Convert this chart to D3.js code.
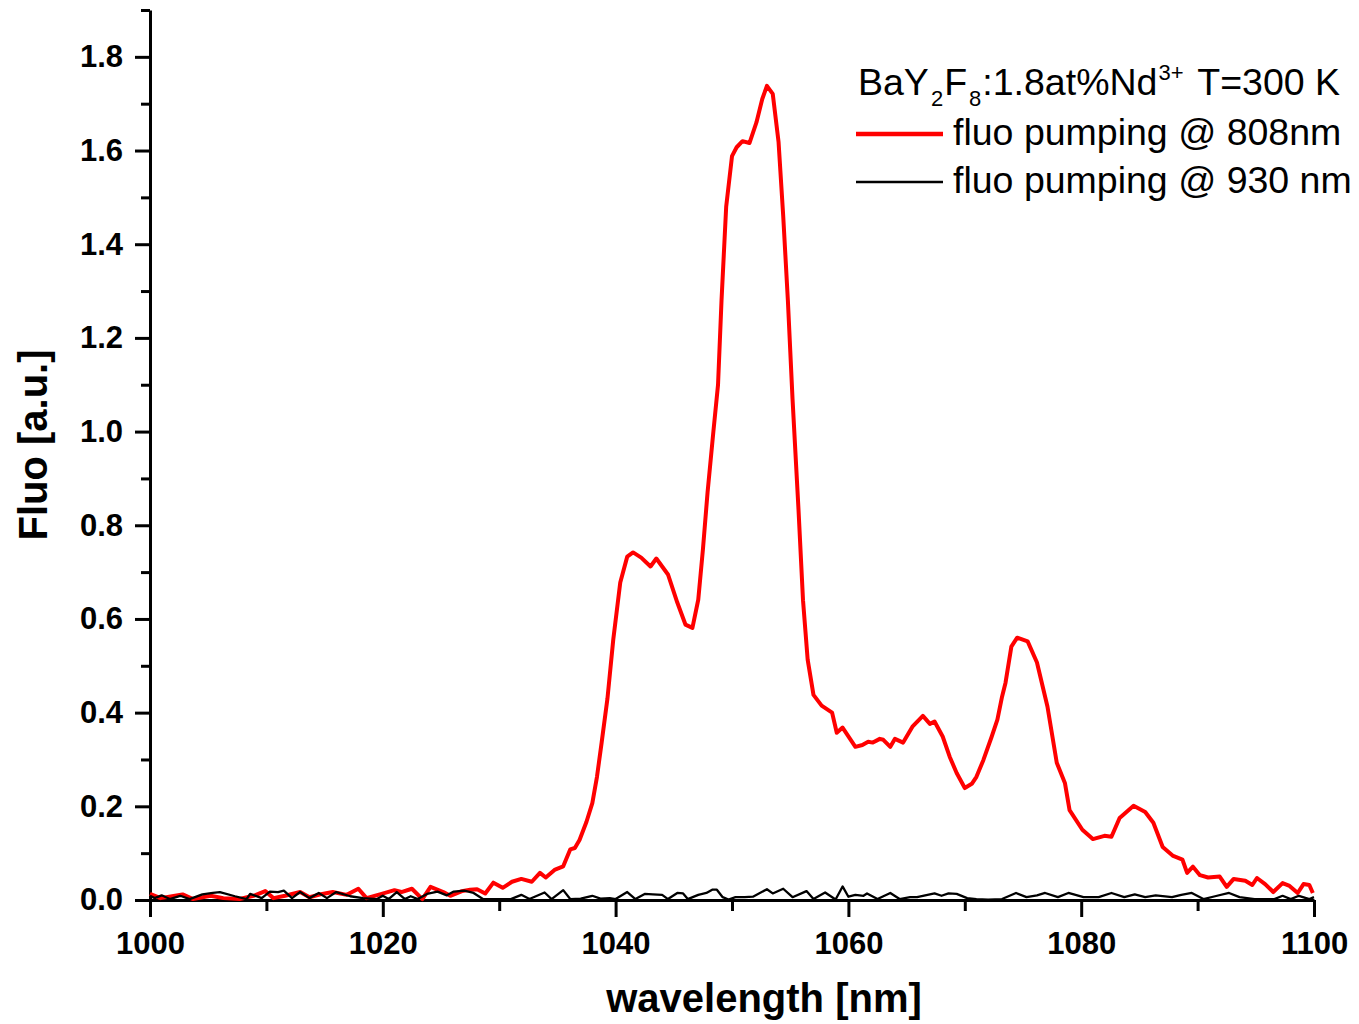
<!DOCTYPE html>
<html>
<head>
<meta charset="utf-8">
<script src="https://cdn.jsdelivr.net/npm/d3@7"></script>
<style>
  body { margin: 0; background: #fff; }
  svg { display: block; font-family: 'Liberation Sans', Arial, sans-serif; }
  .axis path, .axis line { stroke: #000; stroke-width: 3; }
  .axis text { font-size: 31px; font-weight: bold; fill: #000; }
</style>
</head>
<body>
<div id="chart"></div>
<script>
// fluorescence, pumping @ 808 nm (red)
const redWl = [1000.0, 1000.9, 1001.9, 1002.8, 1003.7, 1005.2, 1006.3, 1007.7, 1008.9, 1009.9,
  1010.6, 1011.6, 1012.9, 1013.7, 1014.8, 1015.7, 1016.9, 1017.9, 1018.6, 1019.9,
  1021.0, 1021.6, 1022.5, 1023.4, 1024.1, 1025.2, 1025.8, 1026.8, 1027.5, 1028.1,
  1028.8, 1029.5, 1030.3, 1031.1, 1031.9, 1032.8, 1033.5, 1034.0, 1034.8, 1035.5,
  1036.1, 1036.5, 1036.9, 1037.5, 1038.0, 1038.4, 1038.8, 1039.3, 1039.8, 1040.4,
  1041.0, 1041.5, 1042.2, 1043.0, 1043.5, 1044.5, 1045.3, 1046.0, 1046.6, 1047.1,
  1047.5, 1047.9, 1048.4, 1048.8, 1049.1, 1049.5, 1050.0, 1050.4, 1050.9, 1051.5,
  1052.1, 1052.6, 1053.0, 1053.5, 1054.0, 1054.4, 1054.8, 1055.2, 1055.7, 1056.1,
  1056.5, 1057.0, 1057.7, 1058.6, 1059.0, 1059.5, 1060.6, 1061.2, 1061.7, 1062.1,
  1062.7, 1063.0, 1063.6, 1064.0, 1064.7, 1065.5, 1066.4, 1067.0, 1067.4, 1068.1,
  1068.7, 1069.3, 1070.0, 1070.6, 1071.0, 1071.6, 1072.3, 1072.8, 1073.2, 1073.5,
  1074.0, 1074.5, 1075.4, 1076.2, 1077.1, 1077.9, 1078.6, 1079.0, 1080.1, 1081.0,
  1082.0, 1082.6, 1083.3, 1084.5, 1085.5, 1086.2, 1087.0, 1087.9, 1088.7, 1089.1,
  1089.6, 1090.2, 1090.9, 1091.9, 1092.5, 1093.1, 1094.1, 1094.7, 1095.1, 1095.8,
  1096.5, 1097.3, 1097.9, 1098.6, 1099.1, 1099.6, 1099.9];
const redFluo = [0.013, 0.004, 0.008, 0.012, 0.002, 0.009, 0.004, 0.002, 0.009, 0.019,
  0.004, 0.009, 0.017, 0.006, 0.013, 0.017, 0.011, 0.024, 0.004, 0.013,
  0.021, 0.017, 0.024, 0.002, 0.028, 0.017, 0.009, 0.019, 0.022, 0.023,
  0.014, 0.037, 0.026, 0.039, 0.045, 0.039, 0.058, 0.048, 0.065, 0.072,
  0.108, 0.111, 0.128, 0.167, 0.207, 0.263, 0.336, 0.430, 0.556, 0.678,
  0.733, 0.742, 0.731, 0.712, 0.729, 0.695, 0.635, 0.588, 0.581, 0.641,
  0.748, 0.870, 1.000, 1.100, 1.280, 1.480, 1.588, 1.607, 1.620, 1.616,
  1.660, 1.710, 1.738, 1.721, 1.618, 1.460, 1.280, 1.070, 0.840, 0.640,
  0.513, 0.438, 0.415, 0.400, 0.357, 0.368, 0.327, 0.331, 0.338, 0.336,
  0.344, 0.342, 0.327, 0.344, 0.336, 0.370, 0.393, 0.376, 0.381, 0.349,
  0.306, 0.271, 0.239, 0.248, 0.263, 0.299, 0.348, 0.385, 0.434, 0.464,
  0.541, 0.560, 0.552, 0.507, 0.413, 0.293, 0.250, 0.192, 0.150, 0.130,
  0.137, 0.135, 0.175, 0.201, 0.188, 0.165, 0.113, 0.094, 0.086, 0.058,
  0.071, 0.053, 0.048, 0.050, 0.028, 0.045, 0.041, 0.032, 0.047, 0.034,
  0.017, 0.036, 0.030, 0.015, 0.034, 0.032, 0.015];

// fluorescence, pumping @ 930 nm (black)
const blackWl = [1000.0, 1000.4, 1001.0, 1001.7, 1002.6, 1003.4, 1004.5, 1005.4, 1006.0, 1007.3,
  1008.3, 1008.6, 1009.6, 1010.3, 1011.0, 1011.5, 1012.2, 1012.9, 1013.7, 1014.5,
  1015.2, 1016.0, 1017.2, 1018.3, 1019.5, 1020.0, 1020.5, 1021.2, 1021.9, 1022.4,
  1023.0, 1023.8, 1024.7, 1025.5, 1026.1, 1027.0, 1027.8, 1028.6, 1030.0, 1031.0,
  1031.9, 1032.6, 1033.9, 1034.5, 1035.5, 1036.1, 1037.0, 1038.0, 1038.7, 1039.5,
  1040.0, 1041.0, 1041.7, 1042.5, 1043.2, 1044.0, 1044.5, 1045.3, 1045.8, 1046.2,
  1047.1, 1047.8, 1048.3, 1048.7, 1049.2, 1049.7, 1050.3, 1051.1, 1051.8, 1053.0,
  1053.5, 1054.4, 1055.2, 1056.4, 1057.0, 1058.0, 1058.9, 1059.5, 1060.0, 1060.6,
  1061.3, 1061.6, 1062.5, 1063.6, 1064.4, 1065.3, 1065.9, 1066.8, 1067.4, 1068.0,
  1068.6, 1069.3, 1070.2, 1071.0, 1072.0, 1073.2, 1074.4, 1075.3, 1076.2, 1076.9,
  1078.0, 1078.9, 1080.2, 1081.5, 1082.6, 1083.7, 1084.6, 1085.5, 1086.4, 1087.8,
  1088.6, 1089.5, 1090.5, 1091.5, 1092.7, 1093.6, 1094.9, 1096.6, 1097.3, 1098.0,
  1098.7, 1099.6, 1100.0];
const blackFluo = [0.009, 0.004, 0.010, 0.002, 0.009, 0.002, 0.012, 0.015, 0.017, 0.008,
  0.002, 0.013, 0.004, 0.018, 0.017, 0.020, 0.004, 0.017, 0.004, 0.015,
  0.004, 0.017, 0.008, 0.004, 0.002, 0.009, 0.002, 0.017, 0.002, 0.008,
  0.002, 0.013, 0.018, 0.010, 0.018, 0.020, 0.015, 0.002, 0.002, 0.002,
  0.011, 0.002, 0.016, 0.002, 0.021, 0.002, 0.003, 0.009, 0.003, 0.004,
  0.002, 0.017, 0.002, 0.013, 0.012, 0.011, 0.002, 0.015, 0.014, 0.002,
  0.011, 0.015, 0.022, 0.022, 0.006, 0.001, 0.006, 0.006, 0.007, 0.023,
  0.014, 0.024, 0.006, 0.019, 0.002, 0.016, 0.001, 0.029, 0.007, 0.011,
  0.009, 0.014, 0.002, 0.015, 0.002, 0.006, 0.006, 0.011, 0.014, 0.009,
  0.014, 0.013, 0.004, 0.002, 0.001, 0.002, 0.015, 0.006, 0.010, 0.015,
  0.006, 0.015, 0.006, 0.006, 0.015, 0.006, 0.012, 0.006, 0.010, 0.006,
  0.011, 0.015, 0.002, 0.008, 0.015, 0.006, 0.002, 0.002, 0.009, 0.002,
  0.009, 0.002, 0.006];

const xTicks = [1000, 1020, 1040, 1060, 1080, 1100];
const yTicks = [0.0, 0.2, 0.4, 0.6, 0.8, 1.0, 1.2, 1.4, 1.6, 1.8];
const xMinorTicks = [1010, 1030, 1050, 1070, 1090];
const yMinorTicks = [0.1, 0.3, 0.5, 0.7, 0.9, 1.1, 1.3, 1.5, 1.7, 1.9];

const W = 1359, H = 1024;
const margin = {top: 10, right: 45, bottom: 124, left: 150};
const width = W - margin.left - margin.right;
const height = H - margin.top - margin.bottom;

const svg = d3.select('#chart').append('svg')
  .attr('width', W)
  .attr('height', H);

const g = svg.append('g')
  .attr('transform', `translate(${margin.left},${margin.top})`);

const x = d3.scaleLinear().domain([1000, 1100]).range([0, width]);
const y = d3.scaleLinear().domain([0, 1.9]).range([height, 0]);

// minor ticks first, major axes on top
g.append('g')
  .attr('class', 'axis')
  .attr('transform', `translate(0,${height})`)
  .call(d3.axisBottom(x).tickValues(xMinorTicks).tickSize(11).tickFormat(''))
  .call(s => s.select('.domain').remove());
g.append('g')
  .attr('class', 'axis')
  .call(d3.axisLeft(y).tickValues(yMinorTicks).tickSize(9).tickFormat(''))
  .call(s => s.select('.domain').remove());

g.append('g')
  .attr('class', 'axis')
  .attr('transform', `translate(0,${height})`)
  .call(d3.axisBottom(x).tickValues(xTicks).tickSize(17).tickSizeOuter(0).tickPadding(15).tickFormat(d3.format('d')));

g.append('g')
  .attr('class', 'axis')
  .call(d3.axisLeft(y).tickValues(yTicks).tickSize(15).tickSizeOuter(0).tickPadding(12).tickFormat(d3.format('.1f')));

// data lines
const line = d3.line()
  .x(d => x(d[0]))
  .y(d => y(d[1]));

g.append('path')
  .datum(redWl.map((w, i) => [w, redFluo[i]]))
  .attr('fill', 'none')
  .attr('stroke', '#ff0000')
  .attr('stroke-width', 4)
  .attr('stroke-linejoin', 'round')
  .attr('d', line);

g.append('path')
  .datum(blackWl.map((w, i) => [w, blackFluo[i]]))
  .attr('fill', 'none')
  .attr('stroke', '#000')
  .attr('stroke-width', 2.3)
  .attr('stroke-linejoin', 'round')
  .attr('d', line);

// axis titles
svg.append('text')
  .attr('x', 764)
  .attr('y', 1012)
  .attr('text-anchor', 'middle')
  .style('font-size', '40px')
  .style('font-weight', 'bold')
  .text('wavelength [nm]');

svg.append('text')
  .attr('transform', 'translate(47,445) rotate(-90)')
  .attr('text-anchor', 'middle')
  .style('font-size', '40px')
  .style('font-weight', 'bold')
  .text('Fluo [a.u.]');

// legend
const legend = svg.append('g').style('font-size', '37.5px');
const title = legend.append('text').attr('x', 858).attr('y', 95);
title.append('tspan').text('BaY');
title.append('tspan').attr('dy', 11).attr('dx', 2).style('font-size', '22px').text('2');
title.append('tspan').attr('dy', -11).attr('dx', 1).text('F');
title.append('tspan').attr('dy', 11).attr('dx', 2).style('font-size', '22px').text('8');
title.append('tspan').attr('dy', -11).attr('dx', 1).text(':1.8at%Nd');
title.append('tspan').attr('dy', -15).attr('dx', 1).style('font-size', '22px').text('3+');
title.append('tspan').attr('dy', 15).attr('dx', 4).text(' T=300 K');

const entries = [
  {label: 'fluo pumping @ 808nm', color: '#ff0000', w: 4.5, y: 134},
  {label: 'fluo pumping @ 930 nm', color: '#000', w: 2.3, y: 182}
];
entries.forEach(e => {
  legend.append('line')
    .attr('x1', 856).attr('x2', 943)
    .attr('y1', e.y).attr('y2', e.y)
    .attr('stroke', e.color)
    .attr('stroke-width', e.w);
  legend.append('text')
    .attr('x', 953)
    .attr('y', e.y + 11)
    .text(e.label);
});
</script>
</body>
</html>
